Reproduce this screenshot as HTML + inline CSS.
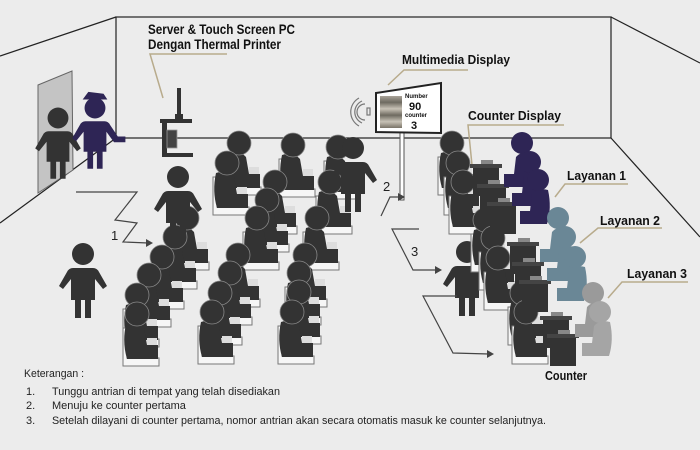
<!DOCTYPE html>
<html><head><meta charset="utf-8"><style>
html,body{margin:0;padding:0;background:#ececec}
svg{display:block}
.t{font-family:"Liberation Sans Narrow","Liberation Sans",sans-serif;font-weight:bold;fill:#111}
.n{font-family:"Liberation Sans Narrow","Liberation Sans",sans-serif;fill:#222}
</style></head><body>
<svg width="700" height="450" viewBox="0 0 700 450" xmlns="http://www.w3.org/2000/svg">
<defs>
<g id="seat">
 <path d="M-14,14 L-10,14 L-10,44 L22,44 L22,52 L-14,52 Z" fill="#f6f6f6" stroke="#777" stroke-width="1"/>
 <path d="M-11,10 Q-15,28 -10,45 L21,45 L21,31 L10,31 L7,14 Q0,6 -11,10 Z" fill="#333"/>
 <rect x="10" y="24" width="10" height="7" fill="#ddd"/>
 <circle r="12" fill="#333" stroke="#888" stroke-width="0.8"/>
</g>
<g id="stand">
 <circle r="11" fill="#333"/>
 <path d="M-10,14 L10,14 Q14,14 16,18 L24,32 L20,35 L12,25 L12,46 L8,46 L8,64 L2,64 L2,46 L-2,46 L-2,64 L-8,64 L-8,46 L-12,46 L-12,25 L-20,35 L-24,32 L-16,18 Q-14,14 -10,14 Z" fill="#333"/>
</g>
<g id="desk">
 <rect x="0" y="6" width="26" height="30" fill="#333"/>
 <rect x="-3" y="4" width="32" height="4" fill="#444"/>
 <rect x="8" y="0" width="12" height="4" fill="#888"/>
</g>
<g id="clerk">
 <path d="M10,10 Q14,28 9,44 L-18,44 L-18,31 L-8,31 L-6,14 Q0,7 10,10 Z"/>
 <circle r="11"/>
</g>
<linearGradient id="scr" x1="0" y1="0" x2="0" y2="1">
 <stop offset="0" stop-color="#aaa49a"/><stop offset="0.2" stop-color="#6e6a60"/><stop offset="0.4" stop-color="#c8c2b6"/><stop offset="0.6" stop-color="#6e6a60"/><stop offset="0.8" stop-color="#c8c2b6"/><stop offset="1" stop-color="#7a7468"/>
</linearGradient>
</defs>

<g stroke="#222" stroke-width="1.2" fill="none">
 <rect x="116" y="17" width="495" height="121"/>
 <line x1="0" y1="56" x2="116" y2="17"/>
 <line x1="611" y1="17" x2="700" y2="63"/>
 <line x1="0" y1="223" x2="116" y2="138"/>
 <line x1="611" y1="138" x2="700" y2="237"/>
</g>
<polygon points="38,85 72,71 73,170 38,193" fill="#c4c4c4" stroke="#666"/>
<use href="#stand" transform="translate(58,118) scale(0.95)"/>
<g transform="translate(95,108) scale(0.95)" fill="#2e2555">
 <circle r="11" fill="#2e2555"/>
 <path d="M-13,-9 L13,-9 L9,-15 L-7,-17 Z" fill="#2e2555"/>
 <path d="M-10,14 L10,14 Q14,14 16,18 L24,30 L32,30 L32,36 L20,36 L12,25 L12,46 L8,46 L8,64 L2,64 L2,46 L-2,46 L-2,64 L-8,64 L-8,46 L-12,46 L-12,25 L-20,35 L-24,32 L-16,18 Q-14,14 -10,14 Z" fill="#2e2555"/>
</g>
<g fill="#333">
 <rect x="177" y="88" width="4" height="28"/>
 <rect x="175" y="114" width="8" height="5"/>
 <rect x="160" y="119" width="32" height="4"/>
 <rect x="162" y="123" width="5" height="34"/>
 <rect x="162" y="153" width="31" height="4"/>
 <rect x="167" y="130" width="10" height="18" fill="#444" stroke="#999" stroke-width="0.8"/>
</g>
<g stroke="#b8ab8c" stroke-width="1.5" fill="none">
 <polyline points="227,54 150,54 163,98"/>
 <polyline points="468,70 404,70 388,85"/>
 <polyline points="564,125 468,125 472,165"/>
 <polyline points="628,184 565,184 555,197"/>
 <polyline points="662,228 598,228 580,243"/>
 <polyline points="688,282 622,282 608,298"/>
</g>
<text class="t" x="148" y="34" font-size="14" textLength="147" lengthAdjust="spacingAndGlyphs">Server &amp; Touch Screen PC</text>
<text class="t" x="148" y="49" font-size="14" textLength="133" lengthAdjust="spacingAndGlyphs">Dengan Thermal Printer</text>
<text class="t" x="402" y="64" font-size="13" textLength="108" lengthAdjust="spacingAndGlyphs">Multimedia Display</text>
<text class="t" x="468" y="120" font-size="13" textLength="93" lengthAdjust="spacingAndGlyphs">Counter Display</text>
<text class="t" x="567" y="180" font-size="13" textLength="59" lengthAdjust="spacingAndGlyphs">Layanan 1</text>
<text class="t" x="600" y="225" font-size="13" textLength="60" lengthAdjust="spacingAndGlyphs">Layanan 2</text>
<text class="t" x="627" y="278" font-size="13" textLength="60" lengthAdjust="spacingAndGlyphs">Layanan 3</text>
<text class="t" x="545" y="380" font-size="13" textLength="42" lengthAdjust="spacingAndGlyphs">Counter</text>

<rect x="400" y="132" width="4" height="68" fill="#fff" stroke="#555"/>
<polygon points="376,93 441,83 441,133 376,132" fill="#fff" stroke="#222" stroke-width="2"/>
<rect x="380" y="96" width="22" height="32" fill="url(#scr)"/>
<text x="405" y="98" font-size="6" class="t">Number</text>
<text x="409" y="110" font-size="11" class="t">90</text>
<text x="405" y="117" font-size="6" class="t">counter</text>
<text x="411" y="129" font-size="11" class="t">3</text>
<g fill="none" stroke="#777" stroke-width="1.2">
 <path d="M365,104 A8,8 0 0 0 365,120"/><path d="M362,101 A12,12 0 0 0 362,123"/><path d="M359,98 A16,16 0 0 0 359,126"/>
 <rect x="367" y="108" width="3" height="7"/>
</g>

<g>
 <use href="#seat" x="239" y="143"/><use href="#seat" x="227" y="163"/>
 <use href="#seat" x="293" y="145"/><use href="#seat" x="338" y="147"/>
 <use href="#seat" x="275" y="182"/><use href="#seat" x="330" y="182"/>
 <use href="#seat" x="267" y="200"/>
 <use href="#seat" x="187" y="218"/><use href="#seat" x="257" y="218"/><use href="#seat" x="317" y="218"/>
 <use href="#seat" x="175" y="237"/>
 <use href="#seat" x="162" y="257"/><use href="#seat" x="238" y="255"/><use href="#seat" x="305" y="255"/>
 <use href="#seat" x="149" y="275"/><use href="#seat" x="230" y="273"/><use href="#seat" x="299" y="273"/>
 <use href="#seat" x="137" y="295"/><use href="#seat" x="220" y="293"/><use href="#seat" x="299" y="292"/>
 <use href="#seat" x="137" y="314"/><use href="#seat" x="212" y="312"/><use href="#seat" x="292" y="312"/>
</g>
<use href="#stand" transform="translate(178,177)"/>
<use href="#stand" transform="translate(353,148)"/>
<use href="#stand" transform="translate(83,254)"/>
<use href="#stand" transform="translate(467,252)"/>

<g>
 <use href="#seat" x="452" y="143"/><use href="#seat" x="458" y="163"/><use href="#seat" x="463" y="182"/>
 <use href="#seat" x="485" y="220"/><use href="#seat" x="493" y="238"/><use href="#seat" x="498" y="258"/>
 <use href="#seat" x="522" y="293"/><use href="#seat" x="526" y="312"/>
 <use href="#desk" x="473" y="160"/><use href="#desk" x="480" y="180"/><use href="#desk" x="490" y="198"/>
 <use href="#desk" x="510" y="238"/><use href="#desk" x="515" y="258"/><use href="#desk" x="522" y="276"/>
 <use href="#desk" x="543" y="312"/><use href="#desk" x="550" y="330"/>
 <use href="#clerk" x="522" y="143" fill="#2e2555"/><use href="#clerk" x="530" y="162" fill="#2e2555"/><use href="#clerk" x="538" y="180" fill="#2e2555"/>
 <use href="#clerk" x="558" y="218" fill="#6a8796"/><use href="#clerk" x="565" y="237" fill="#6a8796"/><use href="#clerk" x="575" y="257" fill="#6a8796"/>
 <use href="#clerk" x="593" y="293" fill="#9a9a9a"/><use href="#clerk" x="600" y="312" fill="#a5a5a5"/>
</g>

<g stroke="#444" stroke-width="1.2" fill="none">
 <polyline points="76,192 137,192 115,220 137,223 123,242 148,243"/>
 <polyline points="381,216 390,197 400,197"/>
 <polyline points="419,229 392,229 413,270 437,270"/>
 <polyline points="457,296 423,296 453,353 489,354"/>
</g>
<g fill="#444">
 <polygon points="153,243 146,239 146,247"/>
 <polygon points="405,197 398,193 398,201"/>
 <polygon points="442,270 435,266 435,274"/>
 <polygon points="494,354 487,350 487,358"/>
</g>
<text class="n" x="111" y="240" font-size="13">1</text>
<text class="n" x="383" y="191" font-size="13">2</text>
<text class="n" x="411" y="256" font-size="13">3</text>

<text class="n" x="24" y="377" font-size="11" textLength="60" lengthAdjust="spacingAndGlyphs">Keterangan :</text>
<text class="n" x="26" y="395" font-size="11">1.</text>
<text class="n" x="26" y="409" font-size="11">2.</text>
<text class="n" x="26" y="424" font-size="11">3.</text>
<text class="n" x="52" y="395" font-size="11" textLength="228" lengthAdjust="spacingAndGlyphs">Tunggu antrian di tempat yang telah disediakan</text>
<text class="n" x="52" y="409" font-size="11">Menuju ke counter pertama</text>
<text class="n" x="52" y="424" font-size="11" textLength="494" lengthAdjust="spacingAndGlyphs">Setelah dilayani di counter pertama, nomor antrian akan secara otomatis masuk ke counter selanjutnya.</text>
</svg>
</body></html>
